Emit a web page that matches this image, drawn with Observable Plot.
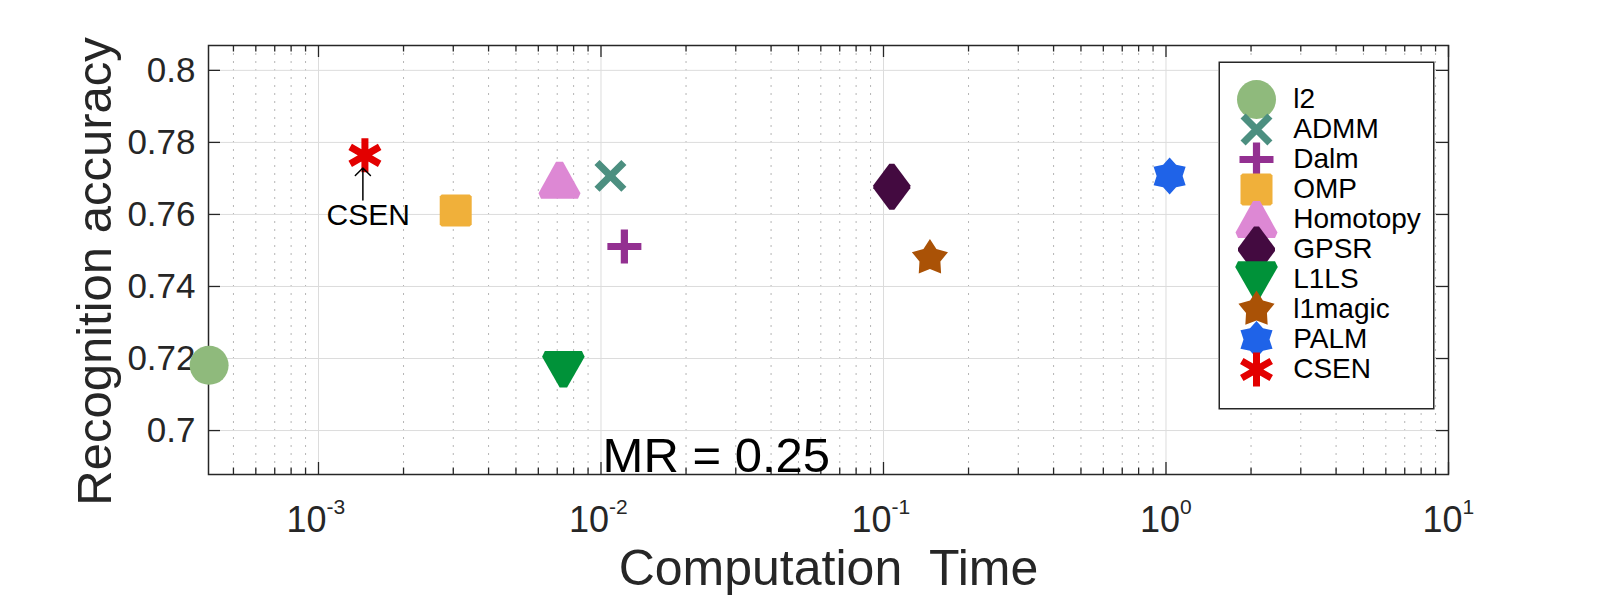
<!DOCTYPE html>
<html><head><meta charset="utf-8">
<script src="https://cdn.jsdelivr.net/npm/d3@7"></script>
<script src="https://cdn.jsdelivr.net/npm/@observablehq/plot@0.6"></script>
<style>
html,body{margin:0;padding:0;background:#fff;}
#wrap{position:relative;width:1600px;height:600px;overflow:hidden;}
#legend{position:absolute;left:1218px;top:61px;}
svg text{white-space:pre;}
</style></head><body><div id="wrap"><div id="main"></div><div id="legend"></div></div>
<script>
// ---------------- data ----------------
const methods  = ["l2","ADMM","Dalm","OMP","Homotopy","GPSR","L1LS","l1magic","PALM","CSEN"];
const times    = [4.1e-4, 0.0108, 0.0121, 3.06e-3, 7.13e-3, 0.107, 7.36e-3, 0.146, 1.03, 1.46e-3];
const accuracy = [0.7181, 0.7707, 0.7511, 0.7611, 0.7695, 0.7677, 0.7170, 0.7479, 0.7707, 0.7764];
const colors   = ["#8FBA7C","#4C8F80","#933091","#F0B03A","#DD88D4","#430A40","#009239","#AA5206","#1F63E8","#E30000"];

const yTicks      = [0.70, 0.72, 0.74, 0.76, 0.78, 0.80];
const yTickLabels = ["0.7","0.72","0.74","0.76","0.78","0.8"];
const xDecades    = [1e-3, 1e-2, 1e-1, 1e0, 1e1];
const xTickBase   = ["10","10","10","10","10"];
const xTickExp    = ["-3","-2","-1","0","1"];
const xDomain     = [4.08e-4, 10];
const yDomain     = [0.6878, 0.8069];

const xLabel = "Computation  Time";
const yLabel = "Recognition accuracy";
const noteText = ["CSEN", "MR = 0.25"];
const noteX    = [1.50e-3, 0.0256];
const noteY    = [0.7570, 0.6884];
const arrowX   = [1.436e-3];
const arrowY1  = [0.7640];
const arrowY2  = [0.7729];

// minor log ticks inside the domain
const xMinor = [];
for (const dec of [1e-4, 1e-3, 1e-2, 1e-1, 1e0]) for (let m = 2; m <= 9; m++) {
  const v = m * dec; if (v > xDomain[0] && v < xDomain[1]) xMinor.push(v);
}

// ---------------- marker shapes (px at r = 10) ----------------
function poly(ctx, pts, k) { pts.forEach(([x,y],i)=> i ? ctx.lineTo(x*k,y*k) : ctx.moveTo(x*k,y*k)); ctx.closePath(); }
function arms(ctx, angles, len, hw, k) {
  for (const a of angles) {
    const r = a*Math.PI/180, c = Math.cos(r), s = Math.sin(r);
    const P = (u,v)=>[u*c - v*s, u*s + v*c];
    poly(ctx, [P(-len,-hw),P(len,-hw),P(len,hw),P(-len,hw)], k);
  }
}
function star(ctx, n, R, r0, k) {
  const pts = [];
  for (let i = 0; i < 2*n; i++) {
    const a = -Math.PI/2 + i*Math.PI/n, rr = i%2 ? r0 : R;
    pts.push([rr*Math.cos(a), rr*Math.sin(a)]);
  }
  poly(ctx, pts, k);
}
const K = size => Math.sqrt(size/Math.PI)/10;
const shapes = {
  l2:       {draw(c,s){const k=K(s); c.moveTo(19.5*k,0); c.arc(0,0,19.5*k,0,2*Math.PI); c.closePath();}},
  ADMM:     {draw(c,s){arms(c,[45,-45],19,3.6,K(s));}},
  Dalm:     {draw(c,s){arms(c,[0,90],17,3.6,K(s));}},
  OMP:      {draw(c,s){poly(c,[[-14,-16],[14,-16],[16,-14],[16,14],[14,16],[-14,16],[-16,14],[-16,-14]],K(s));}},
  Homotopy: {draw(c,s){poly(c,[[-3.5,-18.5],[3.5,-18.5],[21,13],[18.5,18.5],[-18.5,18.5],[-21,13]],K(s));}},
  GPSR:     {draw(c,s){poly(c,[[-2.5,-23],[2.5,-23],[18.5,-1.5],[18.5,1.5],[2.5,23],[-2.5,23],[-18.5,1.5],[-18.5,-1.5]],K(s));}},
  L1LS:     {draw(c,s){poly(c,[[-18.5,-18.2],[18.5,-18.2],[21.3,-12.5],[3.7,18.2],[-3.7,18.2],[-21.3,-12.5]],K(s));}},
  l1magic:  {draw(c,s){star(c,5,19,11,K(s));}},
  PALM:     {draw(c,s){star(c,6,18.5,13,K(s));}},
  CSEN:     {draw(c,s){arms(c,[90,30,-30],17,3.5,K(s));}}
};
const symbolRange = methods.map(m => shapes[m]);
const data = methods.map((m,i)=>({method:m, time:times[i], acc:accuracy[i]}));

// ---------------- layout ----------------
const W = 1600, H = 600, ml = 208, mr = 152, mt = 45, mb = 126;
const pw = W - ml - mr, ph = H - mt - mb;
const ink = "#262626";
const font = "'Liberation Sans', Arial, Helvetica, sans-serif";

const xMajorGrid = xDecades.filter(d => d < xDomain[1]);
const tickLabelMarks = xDecades.flatMap((d,i) => {
  const expW = xTickExp[i].length > 1 ? 24 : 12;
  const dx = 20 - expW/2;
  return [
    Plot.text([d], {x: v=>v, text: ()=>xTickBase[i], frameAnchor:"bottom", lineAnchor:"bottom", textAnchor:"end", dx, dy:57.7, fontSize:36, fill:ink}),
    Plot.text([d], {x: v=>v, text: ()=>xTickExp[i], frameAnchor:"bottom", lineAnchor:"bottom", textAnchor:"start", dx, dy:39.6, fontSize:21, fill:ink})
  ];
});

const main = Plot.plot({
  width: W, height: H, marginLeft: ml, marginRight: mr, marginTop: mt, marginBottom: mb,
  style: {fontFamily: font, color: ink, background: "white", overflow: "visible"},
  x: {type: "log", domain: xDomain, axis: null},
  y: {domain: yDomain, axis: null},
  color: {domain: methods, range: colors},
  symbol: {domain: methods, range: symbolRange},
  marks: [
    Plot.ruleX(xMinor, {x: d=>d, stroke: "#b5b5b5", strokeWidth: 1, strokeDasharray: "2,6"}),
    Plot.ruleX(xMajorGrid, {x: d=>d, stroke: "#dcdcdc", strokeWidth: 1}),
    Plot.ruleY(yTicks, {y: d=>d, stroke: "#dcdcdc", strokeWidth: 1}),
    // ticks (inward, mirrored)
    Plot.tickX(xDecades, {x: d=>d, insetTop: ph-12, stroke: ink, strokeWidth: 1.3}),
    Plot.tickX(xDecades, {x: d=>d, insetBottom: ph-12, stroke: ink, strokeWidth: 1.3}),
    Plot.tickX(xMinor, {x: d=>d, insetTop: ph-6.5, stroke: ink, strokeWidth: 1.3}),
    Plot.tickX(xMinor, {x: d=>d, insetBottom: ph-6.5, stroke: ink, strokeWidth: 1.3}),
    Plot.tickY(yTicks, {y: d=>d, insetRight: pw-12, stroke: ink, strokeWidth: 1.3}),
    Plot.tickY(yTicks, {y: d=>d, insetLeft: pw-12, stroke: ink, strokeWidth: 1.3}),
    Plot.frame({stroke: ink, strokeWidth: 1.5}),
    Plot.axisY({ticks: yTicks, anchor: "left", tickSize: 0, tickPadding: 13, fontSize: 35, label: null, fill: ink,
      tickFormat: d => yTickLabels[yTicks.findIndex(t => Math.abs(t - d) < 1e-9)]}),
    ...tickLabelMarks,
    Plot.text([xLabel], {frameAnchor: "bottom", lineAnchor: "bottom", textAnchor: "middle", dy: 110, fontSize: 50, fill: ink}),
    Plot.text([yLabel], {frameAnchor: "left", lineAnchor: "bottom", textAnchor: "middle", rotate: -90, dx: -98, dy: 11.5, fontSize: 49, fill: ink}),
    // points
    Plot.dot(data, {x: "time", y: "acc", symbol: "method", fill: "method", stroke: "none", r: 10}),
    // annotations
    Plot.arrow(arrowX, {x1: d=>d, x2: d=>d, y1: (d,i)=>arrowY1[i], y2: (d,i)=>arrowY2[i], stroke: "#000", strokeWidth: 1.5, headLength: 11, headAngle: 90}),
    Plot.text([0], {x: ()=>noteX[0], y: ()=>noteY[0], text: ()=>noteText[0], lineAnchor: "bottom", fontSize: 30, fill: "#000"}),
    Plot.text([1], {x: ()=>noteX[1], y: ()=>noteY[1], text: ()=>noteText[1], lineAnchor: "bottom", fontSize: 49, fill: "#000"})
  ]
});
document.getElementById("main").appendChild(main);

// ---------------- legend (overlay plot) ----------------
const legend = Plot.plot({
  width: 216, height: 348, margin: 0,
  style: {fontFamily: font, background: "white", overflow: "visible"},
  x: {domain: [0, 1], axis: null},
  y: {type: "point", domain: methods, range: [19, 327.3], axis: null},
  color: {domain: methods, range: colors},
  symbol: {domain: methods, range: symbolRange},
  marks: [
    Plot.frame({fill: "white", stroke: ink, strokeWidth: 1.5, inset: 0.75}),
    Plot.dot(methods, {y: d=>d, frameAnchor: "left", dx: 38, symbol: d=>d, fill: d=>d, stroke: "none", r: 10}),
    Plot.text(methods, {y: d=>d, frameAnchor: "left", dx: 74.7, textAnchor: "start", fontSize: 28, fill: "#000"})
  ]
});
document.getElementById("legend").appendChild(legend);
</script>
</body></html>
